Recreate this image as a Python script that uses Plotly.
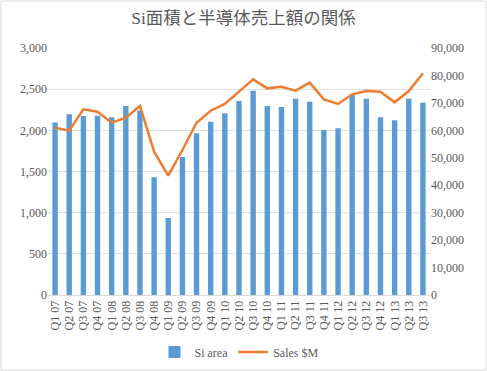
import plotly.graph_objects as go

quarters = ["Q1 07", "Q2 07", "Q3 07", "Q4 07", "Q1 08", "Q2 08", "Q3 08", "Q4 08",
            "Q1 09", "Q2 09", "Q3 09", "Q4 09", "Q1 10", "Q2 10", "Q3 10", "Q4 10",
            "Q1 11", "Q2 11", "Q3 11", "Q4 11", "Q1 12", "Q2 12", "Q3 12", "Q4 12",
            "Q1 13", "Q2 13", "Q3 13"]
si_area = [2095, 2195, 2175, 2178, 2160, 2296, 2240, 1430, 935, 1676, 1964, 2105,
           2206, 2356, 2481, 2296, 2283, 2385, 2348, 2004, 2024, 2441, 2385, 2158,
           2121, 2385, 2336]
sales = [60960, 59870, 67660, 66800, 62780, 64600, 68870, 52220, 43470, 52830, 62780,
         67150, 69600, 74200, 78580, 75300, 75900, 74440, 77370, 71300, 69600, 73130,
         74330, 74080, 70210, 74330, 80780]

W, H = 487, 371
L, R, T, B = 48, 57, 48, 76
font_fam = "'Liberation Serif', 'DejaVu Serif', 'Noto Sans CJK JP', serif"
grey = "#595959"

fig = go.Figure()
fig.add_trace(go.Bar(x=quarters, y=si_area, name="Si area", marker_color="#5B9BD5",
                     marker_line_width=0))
fig.add_trace(go.Scatter(x=quarters, y=sales, name="Sales $M", yaxis="y2", mode="lines",
                         line=dict(color="#ED7D31", width=2.5)))

pw = W - L - R
ph = H - T - B
fig.add_shape(type="rect", xref="paper", yref="paper",
              x0=(1 - L) / pw, x1=(W - 1 - L) / pw,
              y0=-(H - 1 - T - ph) / ph, y1=1 + (T - 1) / ph,
              line=dict(color="#D9D9D9", width=1), layer="below")

fig.update_layout(
    width=W, height=H,
    margin=dict(l=L, r=R, t=T, b=B, autoexpand=False),
    paper_bgcolor="white", plot_bgcolor="white",
    font=dict(family=font_fam, size=12, color=grey),
    title=dict(text="Si面積と半導体売上額の関係", x=0.5, xanchor="center",
               y=1 - 18 / H, yanchor="middle",
               font=dict(family=font_fam, size=17.5, color=grey)),
    bargap=0.62,
    showlegend=True,
    legend=dict(orientation="h", x=0.5, xanchor="center", y=-(352 - 295) / ph,
                yanchor="middle", font=dict(size=12, color=grey)),
    xaxis=dict(tickangle=-90, showgrid=False, showline=True, linecolor="#D9D9D9",
               ticks="", automargin=False, tickfont=dict(size=12, color=grey)),
    yaxis=dict(range=[0, 3000], dtick=500, tickformat=",", showgrid=True,
               gridcolor="#E0E0E0", zeroline=False, ticks="", automargin=False,
               tickfont=dict(size=12, color=grey)),
    yaxis2=dict(range=[0, 90000], dtick=10000, tickformat=",", overlaying="y",
                side="right", showgrid=False, zeroline=False, ticks="", automargin=False,
                tickfont=dict(size=12, color=grey)),
)

fig.write_html("out.html", config={"displayModeBar": False},
               post_script="document.body.style.margin='0';document.body.style.overflow='hidden';")
